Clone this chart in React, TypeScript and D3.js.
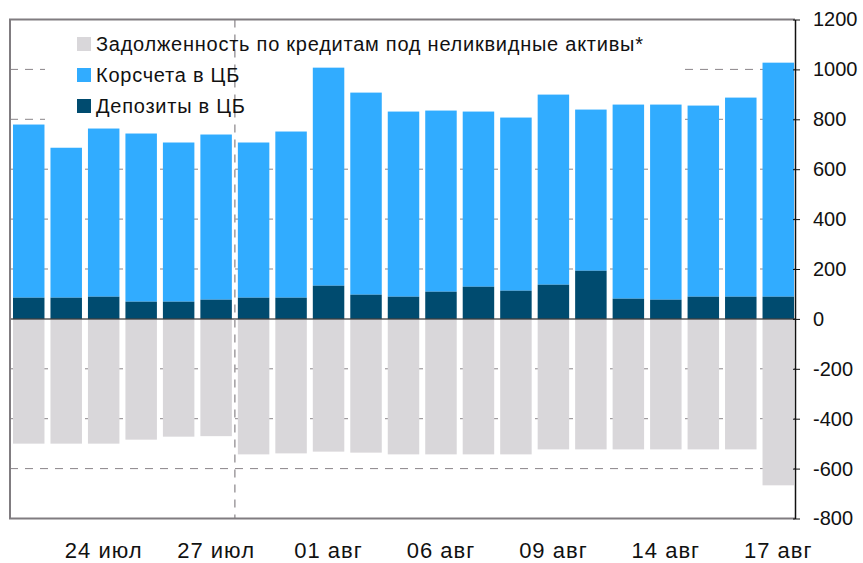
import React, { useRef, useEffect } from "react";
import * as d3 from "d3";

// trading days, 20 Jul - 17 Aug
const days = [
  "20 июл", "23 июл", "24 июл", "25 июл", "26 июл", "27 июл", "30 июл", "31 июл",
  "01 авг", "02 авг", "03 авг", "06 авг", "07 авг", "08 авг", "09 авг", "10 авг",
  "13 авг", "14 авг", "15 авг", "16 авг", "17 авг",
];
const shownLabels = ["24 июл", "27 июл", "01 авг", "06 авг", "09 авг", "14 авг", "17 авг"];

const deposits = [85, 85, 89, 69, 69, 77, 85, 85, 133, 97, 89, 109, 129, 113, 137, 193, 81, 77, 89, 89, 89];
const corrAccounts = [694, 601, 674, 674, 638, 662, 622, 666, 874, 810, 742, 726, 702, 694, 762, 646, 778, 782, 766, 798, 938];
const illiquidLoans = [-500, -500, -500, -484, -472, -470, -543, -539, -532, -536, -543, -543, -543, -543, -523, -523, -523, -523, -523, -523, -667];

const yTicks = [1200, 1000, 800, 600, 400, 200, 0, -200, -400, -600, -800];

const legendItems = [
  { label: "Задолженность по кредитам под неликвидные активы*", color: "#d9d7da" },
  { label: "Корсчета в ЦБ", color: "#31acff" },
  { label: "Депозиты в ЦБ", color: "#004b6f" },
];

const FONT = "'Liberation Sans', Arial, Helvetica, sans-serif";

const App = () => {
  const svgRef = useRef<SVGSVGElement>(null);

  useEffect(() => {
    const svg = d3.select(svgRef.current);
    svg.selectAll("*").remove();

    const width = 863;
    const height = 563;
    const left = 10, right = 795, top = 19.5, bottom = 518.5;

    svg.attr("width", width).attr("height", height);

    const x = d3.scaleBand<string>()
      .domain(days)
      .range([left, 797])
      .paddingInner(0.16)
      .paddingOuter(0.08);

    const y = d3.scaleLinear().domain([-800, 1200]).range([bottom, top]);

    // grid
    svg.append("g")
      .selectAll("line")
      .data(yTicks.filter(d => d !== 0 && d !== 1200 && d !== -800))
      .join("line")
      .attr("x1", left).attr("x2", right)
      .attr("y1", d => y(d)).attr("y2", d => y(d))
      .attr("stroke", "#8a8589")
      .attr("stroke-width", 1)
      .attr("stroke-dasharray", "8,7");

    // legend background
    svg.append("rect")
      .attr("x", 45).attr("y", 22).attr("width", 637).attr("height", 100)
      .attr("fill", "#fff");

    const bars = svg.append("g");
    days.forEach((d, i) => {
      const bx = x(d)!;
      const bw = x.bandwidth();
      bars.append("rect")
        .attr("x", bx).attr("width", bw)
        .attr("y", y(0)).attr("height", y(illiquidLoans[i]) - y(0))
        .attr("fill", legendItems[0].color);
      bars.append("rect")
        .attr("x", bx).attr("width", bw)
        .attr("y", y(deposits[i] + corrAccounts[i]))
        .attr("height", y(deposits[i]) - y(deposits[i] + corrAccounts[i]))
        .attr("fill", legendItems[1].color);
      bars.append("rect")
        .attr("x", bx).attr("width", bw)
        .attr("y", y(deposits[i])).attr("height", y(0) - y(deposits[i]))
        .attr("fill", legendItems[2].color);
    });

    // zero line
    svg.append("line")
      .attr("x1", left).attr("x2", right)
      .attr("y1", y(0)).attr("y2", y(0))
      .attr("stroke", "#333").attr("stroke-opacity", 0.8).attr("stroke-width", 1.5);

    // dashed separator between 27 and 30 Jul
    const sepX = (x("27 июл")! + x.bandwidth() + x("30 июл")!) / 2;
    svg.append("line")
      .attr("x1", sepX).attr("x2", sepX)
      .attr("y1", top).attr("y2", bottom)
      .attr("stroke", "#a09ca0").attr("stroke-width", 1.5)
      .attr("stroke-dasharray", "8,7");

    // frame
    svg.append("path")
      .attr("d", `M${right},${top}H${left}V${bottom}H${right}`)
      .attr("fill", "none")
      .attr("stroke", "#807c80")
      .attr("stroke-width", 2);

    // right axis
    const axis = svg.append("g")
      .attr("transform", `translate(${right},0)`)
      .call(d3.axisRight(y).tickValues(yTicks).tickFormat(d => String(d))
        .tickSize(5).tickPadding(13).tickSizeOuter(0));
    axis.select(".domain").attr("stroke", "#111").attr("stroke-width", 1.5);
    axis.selectAll(".tick line").attr("stroke", "#111").attr("x1", -2);
    axis.selectAll("text")
      .style("font-family", FONT)
      .style("font-size", "20px")
      .attr("fill", "#111");

    // x labels
    svg.append("g")
      .selectAll("text")
      .data(shownLabels)
      .join("text")
      .attr("x", d => x(d)! + x.bandwidth() / 2)
      .attr("y", 558)
      .attr("text-anchor", "middle")
      .style("font-family", FONT)
      .style("font-size", "22px")
      .style("letter-spacing", "1px")
      .attr("fill", "#111")
      .text(d => d);

    // legend
    const legend = svg.append("g");
    legendItems.forEach((item, i) => {
      const ly = 37 + i * 31;
      legend.append("rect")
        .attr("x", 77).attr("y", ly).attr("width", 14).attr("height", 14)
        .attr("fill", item.color);
      legend.append("text")
        .attr("x", 96).attr("y", ly + 14)
        .style("font-family", FONT)
        .style("font-size", "20px")
        .style("letter-spacing", "0.75px")
        .attr("fill", "#111")
        .text(item.label);
    });
  }, []);

  return (
    <div style={{ position: "absolute", left: 0, top: 0, background: "#fff" }}>
      <svg ref={svgRef} style={{ display: "block" }}></svg>
    </div>
  );
};

export default App;
